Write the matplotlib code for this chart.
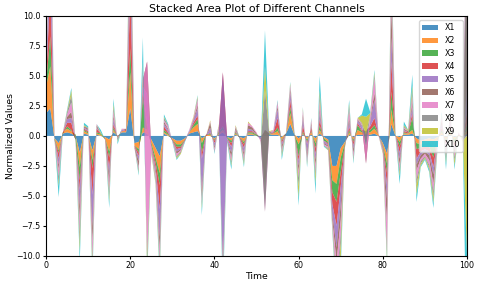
import numpy as np
import matplotlib
matplotlib.use('Agg')
import matplotlib.pyplot as plt

# time axis
time = np.arange(0, 101)

# channel values (one value per time step)
X1 = [1.9, 2.3, -0.2, -0.6, 0.2, 0.3, 0.2, 0.0, -1.4, 0.2,
      0.1, -1.2, 0.1, 0.0, -0.1, -0.3, 0.3, 0.0, 0.3, 0.3,
      2.3, -0.6, -0.5, 0.3, 0.2, -0.3, -1.0, -1.7, 0.2, 0.0,
      -0.2, -0.4, -0.4, -0.2, 0.2, 0.3, 0.4, -0.2, 0.0, 0.0,
      -0.2, 0.1, 0.3, -0.1, -0.2, 0.1, -0.1, -0.2, 0.1, 0.1,
      0.0, -0.1, 0.1, 0.1, 0.1, 0.1, -0.1, 0.2, 1.0, 0.1,
      -0.2, 0.1, -0.1, 0.1, -0.2, 0.2, -0.1, -0.3, -2.5, -2.5,
      -1.0, -0.5, 0.1, -0.1, 0.1, 0.1, 0.1, 0.1, 0.2, 0.0,
      -0.6, -1.5, 1.0, 0.0, -0.1, 0.1, 0.1, 0.2, -0.2, -0.4,
      -0.3, -0.2, -0.3, -0.1, 0.1, -0.1, 0.1, -0.1, 0.0, -0.1,
      0.2]
X2 = [2.2, 3.5, 0.0, -0.6, 0.1, 0.3, 0.2, 0.1, -1.2, 0.2,
      0.1, -0.8, 0.1, 0.1, -0.1, -1.0, 0.2, -0.1, 0.1, 0.1,
      3.0, -0.2, -0.6, 0.4, 0.3, -0.3, -0.8, -1.4, 0.1, 0.1,
      -0.1, -0.3, -0.3, -0.1, 0.1, 0.4, 0.6, -0.4, 0.1, 0.1,
      -0.1, 0.1, 0.2, 0.0, -0.2, 0.1, 0.0, -0.3, 0.1, 0.1,
      0.0, 0.0, 0.1, 0.0, 0.1, 0.3, -0.2, 0.0, 0.9, 0.0,
      -0.5, 0.1, -0.2, 0.2, -0.4, 0.3, -0.1, -0.2, -1.2, -1.5,
      -0.8, -0.1, 0.2, -0.2, 0.4, 0.2, 0.1, 0.2, 0.4, 0.1,
      -0.2, -0.8, 1.2, 0.0, -0.4, 0.1, 0.1, 0.3, -0.4, -0.3,
      -0.3, -0.3, -0.6, -0.1, 0.2, -0.2, 0.2, -0.2, 0.1, 0.0,
      0.3]
X3 = [0.3, 2.5, -0.1, -0.2, -0.1, 0.2, 0.1, -0.4, -1.1, 0.1,
      0.1, -0.7, 0.1, 0.1, 0.0, -0.5, 0.2, 0.0, 0.0, 0.0,
      2.0, 0.0, -0.3, 2.5, 0.2, -0.2, -0.4, -1.0, 0.2, 0.1,
      0.0, -0.2, -0.2, 0.0, 0.0, 0.2, 0.4, -0.8, 0.0, 0.1,
      -0.1, 0.1, 0.3, -0.1, -0.2, 0.1, 0.0, -0.2, 0.1, 0.1,
      0.1, 0.0, 0.1, 0.1, 0.0, 0.3, -0.1, 0.0, 0.5, 0.1,
      -1.0, 0.2, -0.2, 0.1, -0.4, 0.4, -0.2, -0.1, -1.0, -1.5,
      -1.2, -0.1, 0.2, -0.2, 0.4, 0.1, 0.1, 0.2, 0.3, 0.0,
      -0.1, -0.8, 1.5, 0.1, -0.4, 0.1, 0.0, 1.0, -0.5, -0.3,
      -0.2, -0.4, -0.9, -0.1, 0.2, -0.2, 0.3, -0.3, 0.0, -0.1,
      0.5]
X4 = [0.2, 4.0, 0.0, -0.5, 0.1, 0.3, 0.6, 0.0, -0.8, 0.1,
      0.1, -2.2, 0.3, 0.0, 0.0, -0.9, 0.3, 0.0, 0.0, 0.1,
      4.5, -0.1, -0.3, 0.5, 0.3, -0.1, -0.4, -2.0, 0.3, 0.1,
      -0.1, -0.2, -0.1, -0.1, 0.0, 0.2, 0.3, -0.5, -0.1, 0.1,
      -0.2, 0.1, 4.5, 0.0, -0.3, 0.1, -0.1, -0.3, 0.1, 0.1,
      0.0, 0.0, 0.1, 0.0, 0.1, 0.8, -0.2, 0.0, 0.6, 0.0,
      -0.4, 0.5, -0.2, 0.3, -0.5, 0.5, 0.0, -0.1, -1.0, -2.0,
      -1.2, -0.1, 0.3, -0.3, 0.2, 0.1, 0.1, 0.3, 0.6, 0.0,
      -0.1, -1.0, 2.5, 0.0, -0.5, 0.1, 0.1, 0.4, -0.8, -0.3,
      -0.3, -0.4, -0.8, -0.1, 0.2, -0.3, 0.3, -0.3, 0.0, 0.0,
      1.0]
X5 = [0.1, 5.0, 0.1, -0.5, 0.0, 0.3, 0.4, 0.1, -1.4, 0.1,
      0.1, -2.8, 0.1, 0.0, 0.0, -0.6, 0.4, -0.1, 0.1, 0.0,
      3.0, 0.0, -0.4, 0.4, 2.5, -0.1, -0.3, -2.4, 0.2, 0.2,
      0.0, -0.2, -0.1, 0.0, 0.1, 0.2, 0.6, -2.6, 0.0, 0.4,
      -0.3, 0.3, -16.0, -0.1, -0.5, 0.1, 0.0, -0.4, 0.2, 0.1,
      0.0, -0.2, 0.1, 0.0, 0.1, 0.7, -0.2, 0.0, 0.6, 0.1,
      -0.4, 0.6, -0.7, 0.2, -0.5, 0.5, -0.2, -0.1, -0.8, -1.8,
      -1.5, 0.0, 0.4, -0.3, 0.2, 0.3, -1.3, 0.4, 1.5, -0.1,
      -0.1, -1.2, 2.0, -0.1, -0.5, 0.1, 0.0, 0.5, -0.5, -0.3,
      -0.2, -0.3, -0.6, -0.1, 0.3, -0.3, 0.3, -0.3, 0.1, -0.1,
      2.0]
X6 = [0.1, 1.5, -0.1, -0.4, 0.0, 0.2, 0.5, -0.1, -1.0, 0.1,
      0.1, -1.2, 0.2, 0.0, -0.1, -0.7, 0.3, -0.1, 0.0, 0.1,
      2.5, -0.1, -0.5, 0.6, 2.7, -0.2, -0.3, -1.0, 0.2, 0.1,
      0.0, -0.2, -0.1, 0.0, 0.0, 0.1, 0.3, -0.6, 0.0, 0.4,
      -0.2, 0.1, -0.5, -0.1, -0.4, 0.2, 0.0, -0.3, 0.3, 0.2,
      0.1, 0.0, -5.0, 0.1, 0.0, 0.3, -0.3, 0.0, 0.3, 0.0,
      -0.5, 0.3, -0.4, 0.2, -0.5, 0.4, -0.1, -0.1, -0.5, -1.2,
      -1.3, -0.1, 0.4, -0.4, 0.1, 0.1, -1.4, 0.2, 0.6, 0.0,
      -0.1, -2.0, 2.5, 0.0, -0.5, 0.1, 0.1, 0.4, -0.5, -0.3,
      -0.2, -0.4, -0.8, -0.1, 0.3, -0.3, 0.3, -0.3, 0.0, 0.0,
      12.0]
X7 = [0.1, 1.0, 0.0, -0.6, 0.0, 0.2, 0.8, 0.0, -1.1, 0.0,
      0.0, -1.3, 0.1, 0.0, 0.0, -0.6, 0.4, 0.0, 0.1, 0.0,
      1.5, 0.0, -0.2, 0.5, -16.0, -0.1, -0.3, -0.8, 0.1, 0.2,
      0.0, -0.2, -0.1, 0.0, 0.1, 0.1, 0.4, -0.4, 0.0, 0.1,
      -0.2, 0.1, -0.4, 0.0, -0.3, 0.1, 0.0, -0.3, 0.2, 0.1,
      0.1, -0.2, -1.8, 0.0, 0.1, 0.3, -0.2, 0.0, 0.3, 0.0,
      -0.5, 0.3, -0.3, 0.2, -0.5, 0.6, -0.1, -0.1, -0.4, -1.5,
      -1.2, 0.0, 0.6, -0.3, 0.1, 0.1, 1.5, 0.3, 1.2, 0.0,
      -0.1, -2.2, 2.3, 0.0, -0.4, 0.1, 0.0, 0.5, -0.7, -0.2,
      -0.2, -0.4, -0.6, -0.1, 0.3, -0.3, 0.4, -0.3, 0.1, -0.1,
      6.0]
X8 = [0.0, 1.0, 0.0, -0.5, 0.0, 0.2, 0.6, 0.0, -0.9, 0.0,
      0.1, -0.6, 0.0, 0.0, 0.0, -0.5, 0.3, -0.1, 0.0, 0.0,
      1.2, 0.0, -0.2, 0.6, -0.8, -0.1, -0.2, -0.6, 0.2, 0.1,
      0.0, -0.1, -0.1, 0.0, 0.0, 0.0, 0.2, -0.3, 0.0, 0.0,
      -0.1, 0.0, -0.5, 0.0, -0.2, 0.0, 0.0, -0.2, 0.0, 0.0,
      0.0, 0.0, 10.1, 0.0, 0.0, 0.1, -0.2, 0.0, 0.1, 0.0,
      -0.7, 0.1, -0.2, 0.1, -0.4, 0.4, 0.0, -0.1, -0.2, -0.8,
      -0.8, 0.0, 0.3, -0.2, 0.0, 0.1, 0.9, 0.1, 0.3, 0.0,
      -0.1, -0.6, 1.2, 0.0, -0.3, 0.1, 0.0, 0.4, -0.5, -0.2,
      -0.1, -0.2, -0.5, -0.1, 0.1, -0.3, 0.2, -0.3, 0.0, 0.0,
      -22.0]
X9 = [0.0, 0.6, 0.0, -0.3, 0.0, 0.1, 0.4, 0.0, -0.8, 0.1,
      0.0, -0.6, 0.0, 0.1, 0.0, -0.4, 0.3, -0.1, 0.0, 0.0,
      1.0, 0.0, -0.1, 0.4, -0.8, -0.1, -0.2, -0.5, 0.1, 0.0,
      0.0, -0.1, -0.1, 0.0, 0.0, 0.1, 0.1, -0.3, 0.0, 0.1,
      0.0, 0.1, -0.4, 0.0, -0.2, 0.1, 0.0, -0.2, 0.1, 0.0,
      0.0, 0.0, 2.0, 0.1, 0.0, 0.0, -0.2, 0.0, 0.1, 0.0,
      -1.0, 0.1, -0.1, 0.0, -0.6, 0.5, 0.0, -0.1, -0.2, -0.6,
      -1.2, -0.1, 0.2, -0.1, 0.0, 0.6, 1.5, 0.1, 0.2, 0.0,
      -0.1, -0.5, 1.0, 0.0, -0.3, 0.1, 0.1, 0.5, -0.8, -0.2,
      -0.1, -0.2, -0.5, -0.1, 0.1, -0.3, 0.2, -0.4, 0.0, -0.1,
      -10.0]
X10 = [0.1, 0.6, 0.0, -0.9, 0.0, 0.1, 0.2, 0.0, -0.8, 0.2,
       0.1, -0.6, 0.0, 0.2, 0.0, -0.5, 0.4, -0.2, 0.0, 0.0,
       1.0, 0.0, -0.2, 2.0, -0.6, 0.0, -0.1, -0.6, 0.2, 0.1,
       -0.1, -0.1, 0.0, -0.1, 0.0, 0.0, 0.1, -0.5, 0.0, 0.0,
       -0.1, 0.0, -1.0, -0.1, -0.3, 0.0, -0.1, -0.2, 0.0, 0.0,
       0.0, 0.0, 3.0, 0.0, 0.0, 0.1, -0.3, 0.0, 0.1, 0.0,
       -0.6, 0.1, -0.2, 0.1, -0.8, 1.2, -0.1, 0.0, -0.2, -0.6,
       -0.8, 0.0, 0.3, -0.2, 0.0, 0.1, 1.5, 0.1, 0.2, 0.0,
       0.0, -0.4, 0.8, 0.0, -0.6, 0.3, 0.0, 0.9, -0.6, -0.1,
       -0.1, -0.2, -0.4, -0.1, 0.2, -0.5, 0.2, -0.3, 0.0, 0.0,
       -10.0]

channels = [X1, X2, X3, X4, X5, X6, X7, X8, X9, X10]
labels = ['X1', 'X2', 'X3', 'X4', 'X5', 'X6', 'X7', 'X8', 'X9', 'X10']

fig, ax = plt.subplots(figsize=(4.8, 2.85), dpi=100)
fig.subplots_adjust(left=0.096, right=0.973, bottom=0.102, top=0.944)

ax.stackplot(time, *channels, labels=labels, alpha=0.8)

ax.set_xlim(0, 100)
ax.set_ylim(-10, 10)
ax.set_title('Stacked Area Plot of Different Channels', fontsize=7.8, pad=3)
ax.set_xlabel('Time', fontsize=6.7, labelpad=1)
ax.set_ylabel('Normalized Values', fontsize=6.7, labelpad=1)
ax.tick_params(labelsize=5.7, length=2.5, pad=1.5)
ax.legend(loc='upper right', fontsize=5.7)

plt.savefig('out.png', dpi=100)
plt.close()
